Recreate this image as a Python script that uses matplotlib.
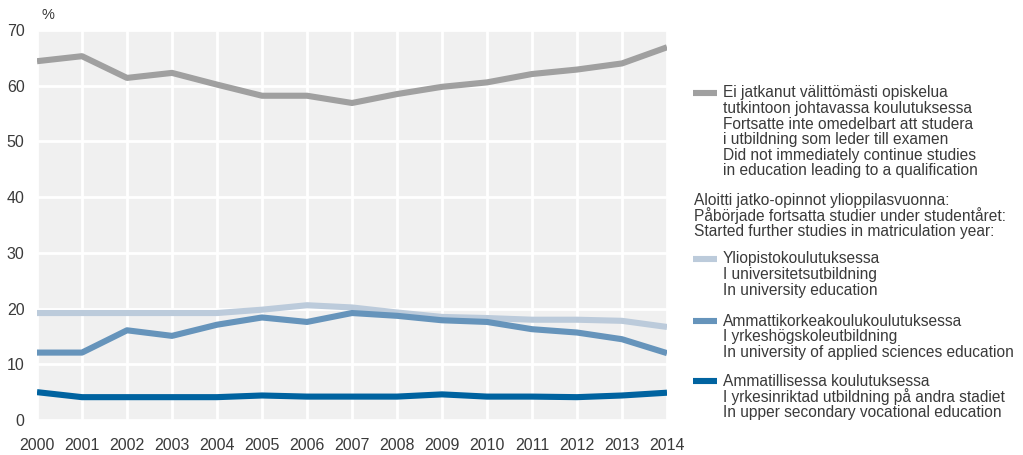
import matplotlib
matplotlib.use("Agg")
import matplotlib.pyplot as plt
from matplotlib.lines import Line2D

plt.rcParams['font.family'] = ['Liberation Sans', 'DejaVu Sans']

years = list(range(2000, 2015))
not_continued = [64.4, 65.3, 61.4, 62.3, 60.2, 58.2, 58.2, 56.9, 58.5, 59.8, 60.6, 62.1, 62.9, 64.0, 66.9]
university = [19.2, 19.2, 19.2, 19.2, 19.2, 19.8, 20.6, 20.2, 19.3, 18.5, 18.3, 18.0, 18.0, 17.8, 16.7]
applied_sciences = [12.1, 12.1, 16.1, 15.1, 17.1, 18.4, 17.6, 19.2, 18.7, 17.9, 17.6, 16.3, 15.7, 14.5, 12.0]
vocational = [5.0, 4.1, 4.1, 4.1, 4.1, 4.4, 4.2, 4.2, 4.2, 4.6, 4.2, 4.2, 4.1, 4.4, 4.9]

y_ticks = [0, 10, 20, 30, 40, 50, 60, 70]

label_not_continued = ["Ei jatkanut välittömästi opiskelua",
                       "tutkintoon johtavassa koulutuksessa",
                       "Fortsatte inte omedelbart att studera",
                       "i utbildning som leder till examen",
                       "Did not immediately continue studies",
                       "in education leading to a qualification"]
label_header = ["Aloitti jatko-opinnot ylioppilasvuonna:",
                "Påbörjade fortsatta studier under studentåret:",
                "Started further studies in matriculation year:"]
label_university = ["Yliopistokoulutuksessa",
                    "I universitetsutbildning",
                    "In university education"]
label_applied = ["Ammattikorkeakoulukoulutuksessa",
                 "I yrkeshögskoleutbildning",
                 "In university of applied sciences education"]
label_vocational = ["Ammatillisessa koulutuksessa",
                    "I yrkesinriktad utbildning på andra stadiet",
                    "In upper secondary vocational education"]

C_GREY = "#a0a0a0"
C_LIGHT = "#bccbdb"
C_MID = "#6694bb"
C_DARK = "#0063a0"
TXT = "#3a3a3a"

W, H = 1023, 455
fig = plt.figure(figsize=(W / 100, H / 100), dpi=100)
ax = fig.add_axes([37 / W, (H - 420) / H, 630 / W, 390 / H])
ax.set_facecolor("#f0f0f0")

lw = 4.4
ax.plot(years, not_continued, color=C_GREY, lw=lw, solid_capstyle="butt", zorder=3)
ax.plot(years, university, color=C_LIGHT, lw=lw, solid_capstyle="butt", zorder=3)
ax.plot(years, applied_sciences, color=C_MID, lw=lw, solid_capstyle="butt", zorder=4)
ax.plot(years, vocational, color=C_DARK, lw=lw, solid_capstyle="butt", zorder=5)

ax.set_xlim(2000, 2014)
ax.set_ylim(0, 70)
ax.set_xticks(years)
ax.set_yticks(y_ticks)
ax.grid(True, color="white", lw=2.0)
ax.set_axisbelow(True)
for s in ax.spines.values():
    s.set_visible(False)
ax.tick_params(length=0, labelsize=11.5, colors=TXT)
ax.tick_params(axis="x", pad=13)
ax.tick_params(axis="y", pad=9)
fig.text(42 / W, 1 - 15 / H, "%", fontsize=10.5, color=TXT, va="center", ha="left")


def legend_block(lines, y0, color=None):
    x_txt = 723 if color else 694
    if color:
        fig.add_artist(Line2D([693 / W, 717 / W], [1 - y0 / H, 1 - y0 / H],
                              color=color, lw=4.4, solid_capstyle="butt"))
    for i, t in enumerate(lines):
        fig.text(x_txt / W, 1 - (y0 + i * 15.6) / H, t, fontsize=11.2,
                 color=TXT, va="center", ha="left")


legend_block(label_not_continued, 93, C_GREY)
legend_block(label_header, 200)
legend_block(label_university, 259, C_LIGHT)
legend_block(label_applied, 321, C_MID)
legend_block(label_vocational, 381, C_DARK)

fig.savefig("out.png", dpi=100)
